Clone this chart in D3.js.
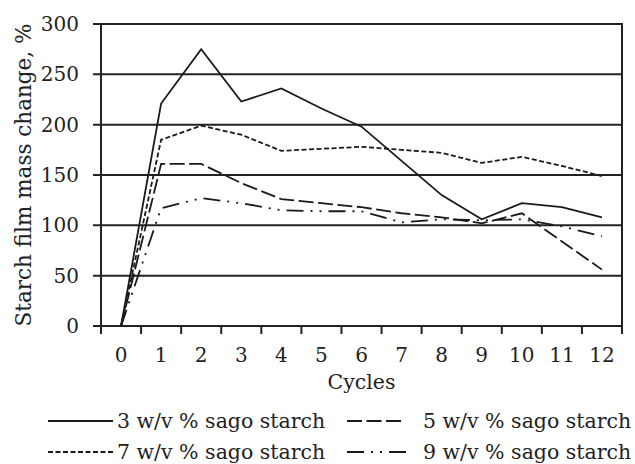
<!DOCTYPE html>
<html>
<head>
<meta charset="utf-8">
<script src="https://cdn.jsdelivr.net/npm/d3@7/dist/d3.min.js"></script>
<style>
  html, body { margin: 0; padding: 0; background: #fff; }
  svg { display: block; }
  text { font-family: "DejaVu Serif", serif; fill: #222; }
</style>
</head>
<body>
<svg id="chart" width="635" height="464"></svg>
<script>
const cycles = ["0","1","2","3","4","5","6","7","8","9","10","11","12"];
const sago3 = [0, 221, 275, 223, 236, 216, 198, 164, 130, 106, 122, 118, 108];
const sago5 = [0, 161, 161, 142, 126, 122, 118, 112, 108, 102, 112, 84, 56];
const sago7 = [0, 185, 199, 190, 174, 176, 178, 175, 172, 162, 168, 159, 149];
const sago9 = [0, 117, 127, 122, 115, 114, 114, 103, 106, 105, 106, 99, 89];
const yTicks = [0, 50, 100, 150, 200, 250, 300];
const seriesNames = ["3 w/v % sago starch", "5 w/v % sago starch", "7 w/v % sago starch", "9 w/v % sago starch"];

const series = [
  { name: seriesNames[0], values: sago3, dash: null },
  { name: seriesNames[1], values: sago5, dash: "15,4.5" },
  { name: seriesNames[2], values: sago7, dash: "5,2.5" },
  { name: seriesNames[3], values: sago9, dash: "17,7,2,7,2,7" }
];

const svg = d3.select("#chart");
const pLeft = 101, pRight = 622, pTop = 24, pBottom = 326;
const x = d3.scaleBand().domain(cycles).range([pLeft, pRight]).padding(0);
const y = d3.scaleLinear().domain([0, 300]).range([pBottom, pTop]);
const ink = "#222";

// gridlines (extend left as tick marks)
svg.append("g").selectAll("line").data(yTicks).join("line")
  .attr("x1", pLeft - 8).attr("x2", pRight)
  .attr("y1", d => y(d)).attr("y2", d => y(d))
  .attr("stroke", ink).attr("stroke-width", 2);

// y tick labels
svg.append("g").selectAll("text").data(yTicks).join("text")
  .attr("x", 79).attr("y", d => y(d))
  .attr("text-anchor", "end").attr("dominant-baseline", "central")
  .attr("font-size", 20).text(d => d);

// vertical axis lines
[pLeft, pRight].forEach(xx => {
  svg.append("line").attr("x1", xx).attr("x2", xx)
    .attr("y1", pTop - 1).attr("y2", pBottom + 8)
    .attr("stroke", ink).attr("stroke-width", 2);
});

// x tick marks at band boundaries
const bounds = cycles.map(c => x(c)).concat([pRight]);
svg.append("g").selectAll("line").data(bounds).join("line")
  .attr("x1", d => d).attr("x2", d => d)
  .attr("y1", pBottom).attr("y2", pBottom + 8)
  .attr("stroke", ink).attr("stroke-width", 2);

// x tick labels
svg.append("g").selectAll("text").data(cycles).join("text")
  .attr("x", d => x(d) + x.bandwidth() / 2).attr("y", 355)
  .attr("text-anchor", "middle").attr("dominant-baseline", "central")
  .attr("font-size", 20).text(d => d);

// axis titles
svg.append("text").attr("x", (pLeft + pRight) / 2).attr("y", 382)
  .attr("text-anchor", "middle").attr("dominant-baseline", "central")
  .attr("font-size", 20.5).text("Cycles");
svg.append("text")
  .attr("transform", `translate(23,${(pTop + pBottom) / 2}) rotate(-90)`)
  .attr("text-anchor", "middle").attr("dominant-baseline", "central")
  .attr("font-size", 21.5).text("Starch film mass change, %");

// lines
const line = d3.line()
  .x((d, i) => x(cycles[i]) + x.bandwidth() / 2)
  .y(d => y(d));
svg.append("g").selectAll("path").data(series).join("path")
  .attr("d", d => line(d.values))
  .attr("fill", "none").attr("stroke", "#1a1a1a").attr("stroke-width", 1.8)
  .attr("stroke-dasharray", d => d.dash);

// legend
const legendPos = [
  { kx1: 48, kx2: 113, tx: 117, ty: 421 },
  { kx1: 347, kx2: 401, tx: 423, ty: 421 },
  { kx1: 48, kx2: 114, tx: 117, ty: 452 },
  { kx1: 347, kx2: 410, tx: 423, ty: 452 }
];
const lg = svg.append("g").selectAll("g").data(series).join("g");
lg.append("line")
  .attr("x1", (d, i) => legendPos[i].kx1).attr("x2", (d, i) => legendPos[i].kx2)
  .attr("y1", (d, i) => legendPos[i].ty).attr("y2", (d, i) => legendPos[i].ty)
  .attr("stroke", "#1a1a1a").attr("stroke-width", 1.8)
  .attr("stroke-dasharray", d => d.dash);
lg.append("text")
  .attr("x", (d, i) => legendPos[i].tx).attr("y", (d, i) => legendPos[i].ty)
  .attr("dominant-baseline", "central").attr("font-size", 20.5)
  .text(d => d.name);
</script>
</body>
</html>
